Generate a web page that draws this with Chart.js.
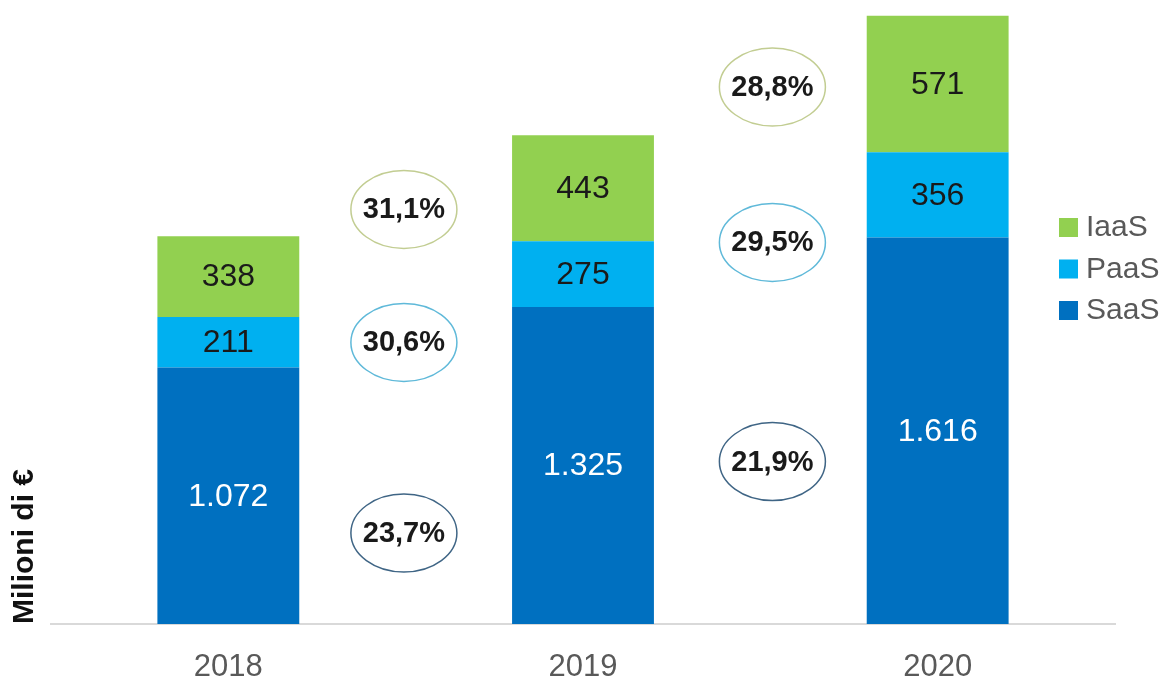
<!DOCTYPE html>
<html>
<head>
<meta charset="utf-8">
<script src="https://cdn.jsdelivr.net/npm/chart.js@4/dist/chart.umd.min.js"></script>
<style>
  html, body { margin: 0; padding: 0; background: #ffffff; }
  #wrap { width: 1172px; height: 679px; position: relative; }
</style>
</head>
<body>
<div id="wrap"><canvas id="c" width="1172" height="679"></canvas></div>
<script>
// ---- data ----
const years = ['2018', '2019', '2020'];
const seriesNames = ['SaaS', 'PaaS', 'IaaS'];
const saasValues = [1072, 1325, 1616];
const paasValues = [211, 275, 356];
const iaasValues = [338, 443, 571];
// year-on-year growth labels (2018→2019, 2019→2020)
const saasGrowth = ['23,7%', '21,9%'];
const paasGrowth = ['30,6%', '29,5%'];
const iaasGrowth = ['31,1%', '28,8%'];
const yAxisTitle = 'Milioni di €';

// ---- annotation placement (in axis units: category index, value) ----
const growthPlacement = {
  x: [0.495, 1.534],
  saasY: [380, 679],
  paasY: [1177, 1595],
  iaasY: [1733, 2245]
};

const colors = { SaaS: '#0070c0', PaaS: '#00b0f0', IaaS: '#92d050' };
const ellipseColors = { SaaS: '#3f6585', PaaS: '#5fb9d9', IaaS: '#c2cd92' };
const FONT = '"Liberation Sans", Arial, sans-serif';

function fmtIt(v) {
  return String(v).replace(/\B(?=(\d{3})+(?!\d))/g, '.');
}

const valueLabels = {
  id: 'valueLabels',
  afterDatasetsDraw(chart) {
    const ctx = chart.ctx;
    ctx.save();
    ctx.font = '32px ' + FONT;
    ctx.textAlign = 'center';
    ctx.textBaseline = 'middle';
    chart.data.datasets.forEach((ds, di) => {
      const meta = chart.getDatasetMeta(di);
      meta.data.forEach((bar, i) => {
        const cy = (bar.y + bar.base) / 2;
        ctx.fillStyle = ds.label === 'SaaS' ? '#ffffff' : '#1a1a1a';
        ctx.fillText(fmtIt(ds.data[i]), bar.x, cy + 1);
      });
    });
    ctx.restore();
  }
};

const growthBubbles = {
  id: 'growthBubbles',
  afterDatasetsDraw(chart) {
    const ctx = chart.ctx;
    const xs = chart.scales.x, ys = chart.scales.y;
    const groups = [
      { name: 'SaaS', labels: saasGrowth, yv: growthPlacement.saasY },
      { name: 'PaaS', labels: paasGrowth, yv: growthPlacement.paasY },
      { name: 'IaaS', labels: iaasGrowth, yv: growthPlacement.iaasY }
    ];
    ctx.save();
    groups.forEach(g => {
      g.labels.forEach((txt, i) => {
        const cx = xs.getPixelForValue(growthPlacement.x[i]);
        const cy = ys.getPixelForValue(g.yv[i]);
        ctx.beginPath();
        ctx.ellipse(cx, cy, 53, 39, 0, 0, Math.PI * 2);
        ctx.fillStyle = '#ffffff';
        ctx.fill();
        ctx.lineWidth = 1.5;
        ctx.strokeStyle = ellipseColors[g.name];
        ctx.stroke();
        ctx.fillStyle = '#1a1a1a';
        ctx.font = 'bold 29px ' + FONT;
        ctx.textAlign = 'center';
        ctx.textBaseline = 'middle';
        ctx.fillText(txt, cx, cy + 1);
      });
    });
    ctx.restore();
  }
};

const sideLegend = {
  id: 'sideLegend',
  afterDraw(chart) {
    const ctx = chart.ctx;
    const items = chart.data.datasets.slice().reverse();
    ctx.save();
    ctx.font = '30px ' + FONT;
    ctx.textAlign = 'left';
    ctx.textBaseline = 'middle';
    items.forEach((ds, k) => {
      const cy = 227 + k * 41.5;
      ctx.fillStyle = ds.backgroundColor;
      ctx.fillRect(1059, cy - 9, 19, 19);
      ctx.fillStyle = '#595959';
      ctx.fillText(ds.label, 1086, cy + 1);
    });
    ctx.restore();
  }
};

const valuesBySeries = { SaaS: saasValues, PaaS: paasValues, IaaS: iaasValues };

new Chart(document.getElementById('c'), {
  type: 'bar',
  data: {
    labels: years,
    datasets: seriesNames.map(n => ({
      label: n,
      data: valuesBySeries[n],
      backgroundColor: colors[n],
      borderWidth: 0,
      categoryPercentage: 1,
      barPercentage: 0.4
    }))
  },
  options: {
    responsive: false,
    animation: false,
    devicePixelRatio: 1,
    layout: { padding: { left: 7, right: 57, top: 2, bottom: 0 } },
    plugins: {
      legend: { display: false },
      tooltip: { enabled: false },
      title: { display: false }
    },
    scales: {
      x: {
        stacked: true,
        grid: { display: false, drawTicks: false },
        border: { display: true, color: '#d9d9d9', width: 2 },
        ticks: {
          color: '#595959',
          font: { family: FONT, size: 31 },
          padding: 25
        },
        afterFit(scale) { scale.height = 55; }
      },
      y: {
        stacked: true,
        min: 0,
        max: 2600,
        grid: { display: false, drawTicks: false },
        border: { display: false },
        ticks: { display: false },
        title: {
          display: true,
          text: yAxisTitle,
          align: 'start',
          color: '#111111',
          font: { family: FONT, size: 30, weight: 'bold' },
          padding: { top: 0, bottom: 8 }
        },
        afterFit(scale) { scale.width = 44; }
      }
    }
  },
  plugins: [valueLabels, growthBubbles, sideLegend]
});
</script>
</body>
</html>
